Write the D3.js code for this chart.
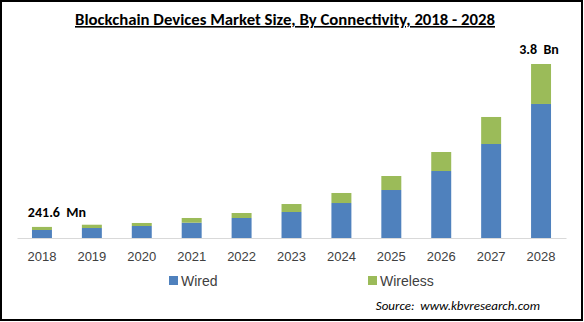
<!DOCTYPE html>
<html>
<head>
<meta charset="utf-8">
<script src="https://cdn.jsdelivr.net/npm/d3@7"></script>
<style>
  html, body { margin: 0; padding: 0; background: #fff; }
  svg { display: block; font-family: Carlito, Calibri, 'Liberation Sans', Arial, sans-serif; }
  text { white-space: pre; }
</style>
</head>
<body>
<svg width="584" height="322"></svg>
<script>
// values in USD Mn
const years = ['2018', '2019', '2020', '2021', '2022', '2023', '2024', '2025', '2026', '2027', '2028']
const wired = [175, 218, 262, 334, 437, 568, 764, 1048, 1463, 2053, 2927]
const wireless = [67, 72, 66, 103, 109, 174, 219, 306, 415, 590, 873]
const seriesNames = ['Wired', 'Wireless']
const colors = ['#4F81BD', '#9BBB59']

const rows = years.map((y, i) => ({ year: y, Wired: wired[i], Wireless: wireless[i] }))
const stack = d3.stack().keys(seriesNames)(rows)

const svg = d3.select('svg')

svg.append('rect')
    .attr('x', 1).attr('y', 1)
    .attr('width', 581).attr('height', 319)
    .attr('fill', '#fff')
    .attr('stroke', '#000')
    .attr('stroke-width', 2)

const x = d3.scaleBand()
    .domain(years)
    .range([17, 566])
    .paddingInner(0.6)
    .paddingOuter(0.3)

const y = d3.scaleLinear()
    .domain([0, 3800])
    .range([238, 64])

// title
svg.append('text')
    .attr('x', 285).attr('y', 25)
    .attr('text-anchor', 'middle')
    .attr('font-size', 16)
    .attr('font-weight', 'bold')
    .attr('fill', '#000')
    .attr('text-decoration', 'underline')
    .attr('textLength', 420)
    .attr('lengthAdjust', 'spacingAndGlyphs')
    .text('Blockchain Devices Market Size, By Connectivity, 2018 - 2028')

// bars
svg.append('g').selectAll('g')
    .data(stack)
  .enter().append('g')
    .attr('fill', (d, i) => colors[i])
  .selectAll('rect')
    .data(d => d)
  .enter().append('rect')
    .attr('x', d => x(d.data.year))
    .attr('width', x.bandwidth())
    .attr('y', d => y(d[1]))
    .attr('height', d => y(d[0]) - y(d[1]))

// axis line + labels
const xAxis = svg.append('g')
    .attr('transform', `translate(0, ${y(0)})`)
    .call(d3.axisBottom(x).tickSize(0).tickPadding(14))
xAxis.select('.domain').attr('stroke', '#D9D9D9').attr('stroke-width', 1)
xAxis.selectAll('text')
    .attr('font-size', 13)
    .attr('fill', '#404040')
    .attr('font-family', "'Liberation Sans', Arial, sans-serif")

// end labels
const totals = rows.map(d => d.Wired + d.Wireless)
const endLabels = [
  { i: 0, text: '241.6  Mn' },
  { i: years.length - 1, text: '3.8  Bn' },
]
svg.append('g').selectAll('text')
    .data(endLabels)
  .enter().append('text')
    .attr('x', d => x(years[d.i]) + x.bandwidth() / 2 + (d.i === 0 ? 15 : -2))
    .attr('y', d => y(totals[d.i]) - 10)
    .attr('text-anchor', 'middle')
    .attr('font-size', 14)
    .attr('font-weight', 'bold')
    .attr('fill', '#000')
    .text(d => d.text)

// legend
const legendX = [169, 368]
const legend = svg.append('g').selectAll('g')
    .data(seriesNames)
  .enter().append('g')
    .attr('transform', (d, i) => `translate(${legendX[i]}, 276)`)
legend.append('rect')
    .attr('width', 9).attr('height', 9)
    .attr('fill', (d, i) => colors[i])
legend.append('text')
    .attr('x', 12).attr('y', 9.5)
    .attr('font-size', 14)
    .attr('fill', '#404040')
    .attr('font-family', "'Liberation Sans', Arial, sans-serif")
    .text(d => d)

svg.append('text')
    .attr('x', 540).attr('y', 310)
    .attr('text-anchor', 'end')
    .attr('font-size', 13)
    .attr('font-style', 'italic')
    .attr('fill', '#000')
    .text('Source:  www.kbvresearch.com')
</script>
</body>
</html>
